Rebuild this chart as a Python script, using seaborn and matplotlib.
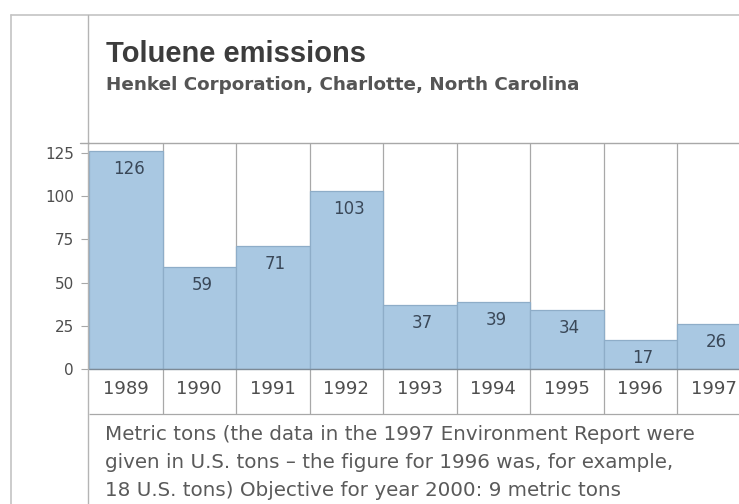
import numpy as np
import pandas as pd
import matplotlib
matplotlib.use("Agg")
import matplotlib.pyplot as plt
import seaborn as sns

# Data
years = ["1989", "1990", "1991", "1992", "1993", "1994", "1995", "1996", "1997"]
emissions = [126, 59, 71, 103, 37, 39, 34, 17, 26]
y_ticks = [0, 25, 50, 75, 100, 125]

title = "Toluene emissions"
subtitle = "Henkel Corporation, Charlotte, North Carolina"
footnote = [
    "Metric tons (the data in the 1997 Environment Report were",
    "given in U.S. tons \u2013 the figure for 1996 was, for example,",
    "18 U.S. tons) Objective for year 2000: 9 metric tons",
]

COLORS = {
    "bar": "#a9c8e2",
    "bar_edge": "#8eadc8",
    "line": "#a8a8a8",
    "frame": "#c4c4c4",
    "text": "#4e4e4e",
    "label": "#3a4858",
}

sns.set_theme(style="white")
plt.rcParams["font.family"] = ["DejaVu Sans"]

W, H = 739, 504
fig = plt.figure(figsize=(W / 100, H / 100), dpi=100)
fig.patch.set_facecolor("white")

# axes placement in pixels
ax_left, ax_top, ax_bottom = 89, 143, 369
ax = fig.add_axes([ax_left / W, (H - ax_bottom) / H, (W - ax_left) / W, (ax_bottom - ax_top) / H])

df = pd.DataFrame({"year": years, "tons": emissions})
sns.barplot(data=df, x="year", y="tons", color=COLORS["bar"], width=1.0,
            saturation=1, edgecolor=COLORS["bar_edge"], linewidth=0.9, ax=ax)

col_px = 73.5
ax.set_xlim(-0.5, -0.5 + (W - ax_left) / col_px)
px_per_unit = (ax_bottom - 153) / 125
ax.set_ylim(0, (ax_bottom - ax_top) / px_per_unit)

# value labels inside the bars, just under the top edge
for i, v in enumerate(emissions):
    ax.annotate(str(v), (i, v), xytext=(2, -16.5), textcoords="offset points",
                ha="center", va="baseline", fontsize=12, color=COLORS["label"])

# column separators, running through the year row
row_units = (414 - ax_bottom) / px_per_unit
bounds = np.arange(len(years) + 1) - 0.5
ax.vlines(bounds[1:], -row_units, ax.get_ylim()[1], color=COLORS["line"],
          linewidth=0.9, clip_on=False, zorder=0.5)
ax.hlines(-row_units, -0.5, ax.get_xlim()[1], color=COLORS["line"],
          linewidth=0.9, clip_on=False)

for side in ["right", "left", "bottom"]:
    ax.spines[side].set_visible(False)
ax.spines["top"].set_color(COLORS["line"])
ax.spines["top"].set_linewidth(1.0)
ax.axhline(0, color="#7d8a96", linewidth=1.0, clip_on=False)

ax.set_yticks(y_ticks)
ax.set_yticklabels([str(t) for t in y_ticks], fontsize=11, color=COLORS["text"])
ax.tick_params(axis="y", length=6, width=0.8, color=COLORS["line"], pad=5, left=True)
ax.tick_params(axis="x", length=0, pad=8, labelsize=13, labelcolor=COLORS["text"])
ax.set_xlabel("")
ax.set_ylabel("")

# outer frame
fig.add_artist(plt.Line2D([11 / W, 1], [1 - 15 / H, 1 - 15 / H], color=COLORS["frame"], linewidth=1.2))
fig.add_artist(plt.Line2D([11 / W, 11 / W], [0, 1 - 15 / H], color=COLORS["frame"], linewidth=1.2))
fig.add_artist(plt.Line2D([88 / W, 88 / W], [0, 1 - 15 / H], color="#b4b4b4", linewidth=1.0))
fig.add_artist(plt.Line2D([80 / W, ax_left / W], [1 - ax_top / H, 1 - ax_top / H],
                          color=COLORS["line"], linewidth=1.0))

# titles
fig.text(106 / W, 1 - 62 / H, title, fontsize=21, fontweight="bold",
         family=["Liberation Sans", "DejaVu Sans"],
         color="#3c3c3c", va="baseline", ha="left")
fig.text(106 / W, 1 - 90 / H, subtitle, fontsize=13.2, fontweight="bold",
         color="#555555", va="baseline", ha="left")

# footnote
for i, line in enumerate(footnote):
    fig.text(105 / W, 1 - (440 + i * 28) / H, line, fontsize=14.3,
             color="#5a5a5a", va="baseline", ha="left")

fig.savefig("out.png", dpi=100, facecolor="white")
